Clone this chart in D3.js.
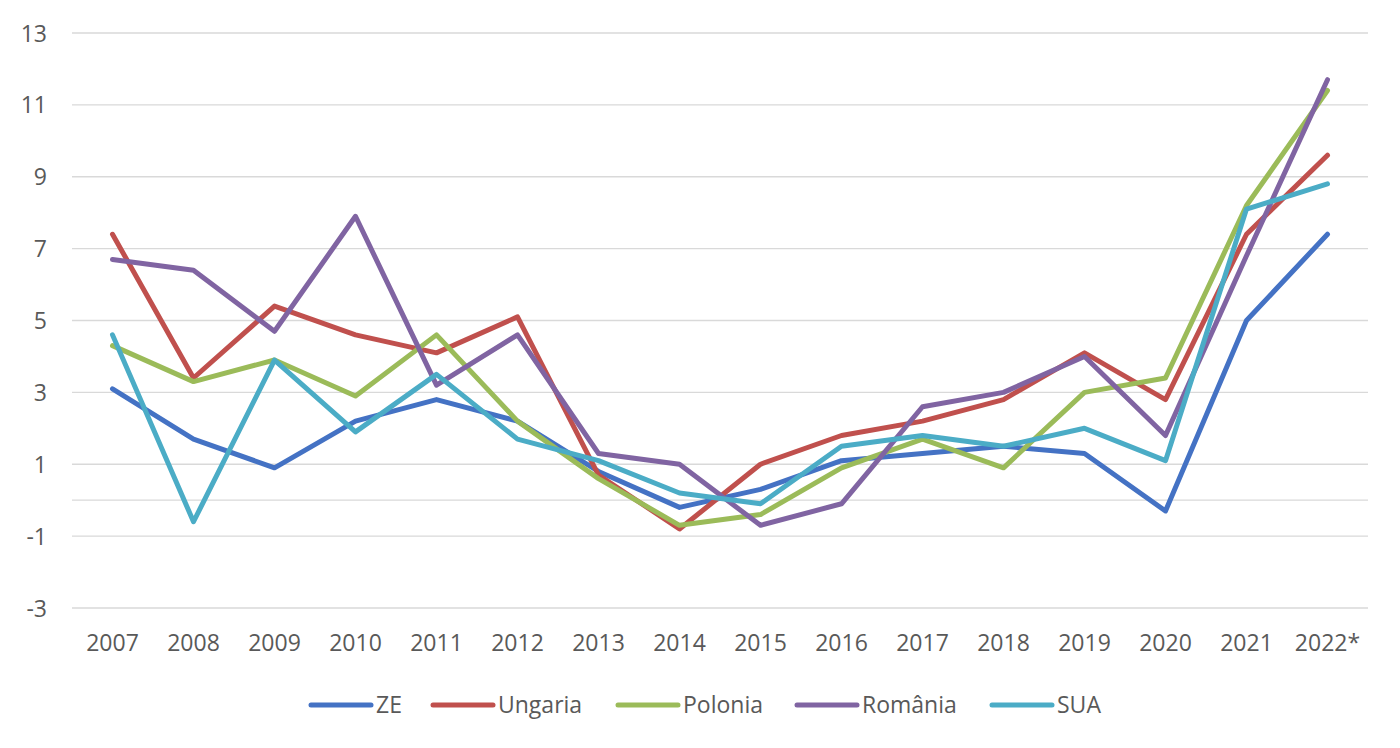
<!DOCTYPE html>
<html>
<head>
<meta charset="utf-8">
<script src="https://cdn.jsdelivr.net/npm/d3@7"></script>
<style>
  html, body { margin: 0; padding: 0; background: #fff; }
  svg { display: block; }
  text { font-family: "Open Sans", sans-serif; fill: #595959; }
</style>
</head>
<body>
<svg id="chart" width="1400" height="748"></svg>
<script>
const years = ["2007","2008","2009","2010","2011","2012","2013","2014","2015","2016","2017","2018","2019","2020","2021","2022*"];
const seriesNames = ["ZE","Ungaria","Polonia","România","SUA"];
const ZE      = [3.1, 1.7, 0.9, 2.2, 2.8, 2.2, 0.8, -0.2, 0.3, 1.1, 1.3, 1.5, 1.3, -0.3, 5.0, 7.4];
const Ungaria = [7.4, 3.4, 5.4, 4.6, 4.1, 5.1, 0.7, -0.8, 1.0, 1.8, 2.2, 2.8, 4.1, 2.8, 7.4, 9.6];
const Polonia = [4.3, 3.3, 3.9, 2.9, 4.6, 2.2, 0.6, -0.7, -0.4, 0.9, 1.7, 0.9, 3.0, 3.4, 8.2, 11.4];
const Romania = [6.7, 6.4, 4.7, 7.9, 3.2, 4.6, 1.3, 1.0, -0.7, -0.1, 2.6, 3.0, 4.0, 1.8, 6.8, 11.7];
const SUA     = [4.6, -0.6, 3.9, 1.9, 3.5, 1.7, 1.1, 0.2, -0.1, 1.5, 1.8, 1.5, 2.0, 1.1, 8.1, 8.8];
const yTicks  = [-3, -1, 1, 3, 5, 7, 9, 11, 13];
const colors  = ["#4472C4", "#C0504D", "#9BBB59", "#8064A2", "#4BACC6"];

(function () {
const seriesValues = [ZE, Ungaria, Polonia, Romania, SUA];
const series = seriesNames.map((n, i) => ({ name: n, values: seriesValues[i], color: colors[i] }));

const svg = d3.select("#chart");
const pLeft = 72, pRight = 1368, pTop = 33, pBottom = 608;

const x = d3.scaleBand().domain(years).range([pLeft, pRight]);
const cx = d => x(d) + x.bandwidth() / 2;
const y = d3.scaleLinear().domain([-3, 13]).range([pBottom, pTop]);

// gridlines (odd values) plus the zero line
const gridVals = yTicks.concat([0]);
svg.append("g").selectAll("line").data(gridVals).join("line")
  .attr("x1", pLeft).attr("x2", pRight)
  .attr("y1", d => y(d)).attr("y2", d => y(d))
  .attr("stroke", "#d9d9d9").attr("stroke-width", 1.3);

// y axis labels
const yAxis = d3.axisLeft(y).tickValues(yTicks).tickSize(0).tickPadding(0).tickFormat(d => String(d));
const gy = svg.append("g").attr("transform", `translate(47,0)`).call(yAxis);
gy.select(".domain").remove();
gy.selectAll("text").attr("font-size", 23).attr("font-family", "Open Sans").attr("fill", "#595959").attr("dy", "0.35em");

// x axis labels
const xAxis = d3.axisBottom(x).tickSize(0).tickPadding(0);
const gx = svg.append("g").attr("transform", `translate(0,${pBottom + 35})`).call(xAxis);
gx.select(".domain").remove();
gx.selectAll("text").attr("font-size", 23).attr("font-family", "Open Sans").attr("fill", "#595959").attr("dy", "0.35em");

// lines
const line = d3.line().x((d, i) => cx(years[i])).y(d => y(d));
svg.append("g").selectAll("path").data(series).join("path")
  .attr("d", s => line(s.values))
  .attr("fill", "none")
  .attr("stroke", s => s.color)
  .attr("stroke-width", 5)
  .attr("stroke-linejoin", "round")
  .attr("stroke-linecap", "round");

// legend
const legendX = [311, 433, 618, 797, 992];
const ly = 705;
const lg = svg.append("g").selectAll("g").data(series).join("g")
  .attr("transform", (s, i) => `translate(${legendX[i]},${ly})`);
lg.append("line").attr("x1", 0).attr("x2", 60).attr("y1", 0).attr("y2", 0)
  .attr("stroke", s => s.color).attr("stroke-width", 5).attr("stroke-linecap", "round");
lg.append("text").attr("x", 65).attr("y", 0).attr("dy", "0.35em")
  .attr("font-size", 23).text(s => s.name);
})();
</script>
</body>
</html>
